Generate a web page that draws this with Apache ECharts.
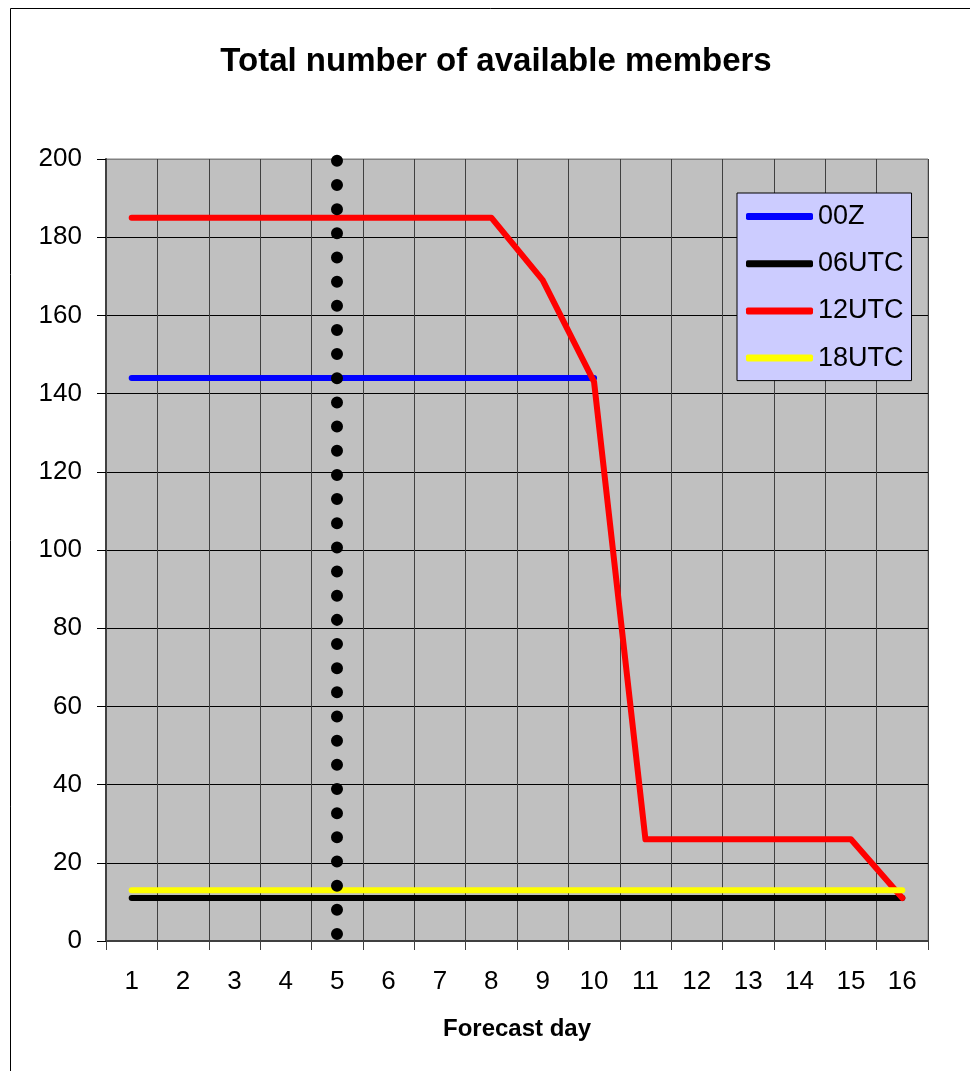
<!DOCTYPE html>
<html>
<head>
<meta charset="utf-8">
<script src="https://cdn.jsdelivr.net/npm/echarts@6/dist/echarts.min.js"></script>
<style>
html,body{margin:0;padding:0;background:#fff;}
#chart{width:970px;height:1071px;}
</style>
</head>
<body>
<div id="chart"></div>
<script>
var days = ['1','2','3','4','5','6','7','8','9','10','11','12','13','14','15','16'];
var s00Z   = [144,144,144,144,144,144,144,144,144,144,null,null,null,null,null,null];
var s06UTC = [11,11,11,11,11,11,11,11,11,11,11,11,11,11,11,11];
var s12UTC = [185,185,185,185,185,185,185,185,169,143,26,26,26,26,26,11];
var s18UTC = [13,13,13,13,13,13,13,13,13,13,13,13,13,13,13,13];
var seriesNames = ['00Z','06UTC','12UTC','18UTC'];
var seriesColors = ['#0000FF','#000000','#FF0000','#FFFF00'];
var markerDay = '5';
var markerRange = [1.8, 200];

var FONT = 'Liberation Sans, Arial, sans-serif';
var chart = echarts.init(document.getElementById('chart'));

function lineSeries(name, data, color, extra) {
  var s = {
    name: name,
    type: 'line',
    data: data,
    symbol: 'none',
    showSymbol: false,
    connectNulls: false,
    itemStyle: {color: color},
    lineStyle: {color: color, width: 6, cap: 'round', join: 'round'},
    emphasis: {disabled: true},
    animation: false
  };
  if (extra) { for (var k in extra) s[k] = extra[k]; }
  return s;
}

var ySplitColors = [];
for (var i = 0; i <= 10; i++) ySplitColors.push(i === 10 ? '#808080' : '#000000');

var option = {
  animation: false,
  backgroundColor: '#ffffff',
  title: {
    text: 'Total number of available members',
    left: 496,
    top: 45,
    padding: 0,
    textAlign: 'center',
    textStyle: {fontFamily: FONT, fontSize: 33, fontWeight: 'bold', color: '#000'}
  },
  graphic: [{
    type: 'rect',
    shape: {x: 10.5, y: 8.5, width: 1000, height: 1100},
    style: {fill: 'none', stroke: '#000', lineWidth: 1},
    silent: true,
    z: -10
  }],
  legend: {
    orient: 'vertical',
    left: 737,
    top: 193,
    padding: [10, 8, 9, 9],
    itemGap: 20.2,
    itemWidth: 67,
    itemHeight: 7,
    icon: 'roundRect',
    backgroundColor: '#CCCCFF',
    borderColor: '#000',
    borderWidth: 1,
    borderRadius: 0,
    selectedMode: false,
    data: seriesNames,
    textStyle: {fontFamily: FONT, fontSize: 27, color: '#000', padding: [0,0,0,0]}
  },
  grid: {
    left: 106, top: 159, width: 822, height: 782,
    show: true,
    backgroundColor: '#C0C0C0',
    borderColor: '#808080',
    borderWidth: 1,
    containLabel: false
  },
  xAxis: {
    type: 'category',
    data: days,
    boundaryGap: true,
    name: 'Forecast day',
    nameLocation: 'middle',
    nameGap: 76,
    nameTextStyle: {fontFamily: FONT, fontSize: 24, fontWeight: 'bold', color: '#000'},
    axisLine: {show: true, lineStyle: {color: '#404040', width: 2}},
    axisTick: {show: true, length: 9, inside: false, alignWithLabel: false, lineStyle: {color: '#404040', width: 1}},
    axisLabel: {margin: 28, fontFamily: FONT, fontSize: 26, color: '#000', interval: 0},
    splitLine: {show: true, interval: 0, lineStyle: {color: '#404040', width: 1}}
  },
  yAxis: {
    type: 'value',
    min: 0, max: 200, interval: 20,
    axisLine: {show: true, lineStyle: {color: '#404040', width: 2}},
    axisTick: {show: true, length: 9, inside: false, lineStyle: {color: '#000', width: 1}},
    axisLabel: {margin: 24, fontFamily: FONT, fontSize: 26, color: '#000'},
    splitLine: {show: true, lineStyle: {color: ySplitColors, width: 1}}
  },
  series: [
    lineSeries(seriesNames[0], s00Z, seriesColors[0]),
    lineSeries(seriesNames[1], s06UTC, seriesColors[1]),
    lineSeries(seriesNames[2], s12UTC, seriesColors[2]),
    lineSeries(seriesNames[3], s18UTC, seriesColors[3], {
      markLine: {
        silent: true,
        symbol: ['none', 'none'],
        label: {show: false},
        emphasis: {disabled: true},
        animation: false,
        lineStyle: {color: '#000', width: 12, type: [0.01, 24.15], cap: 'round'},
        data: [[{coord: [markerDay, markerRange[0]]}, {coord: [markerDay, markerRange[1]]}]]
      }
    })
  ]
};
chart.setOption(option);
</script>
</body>
</html>
